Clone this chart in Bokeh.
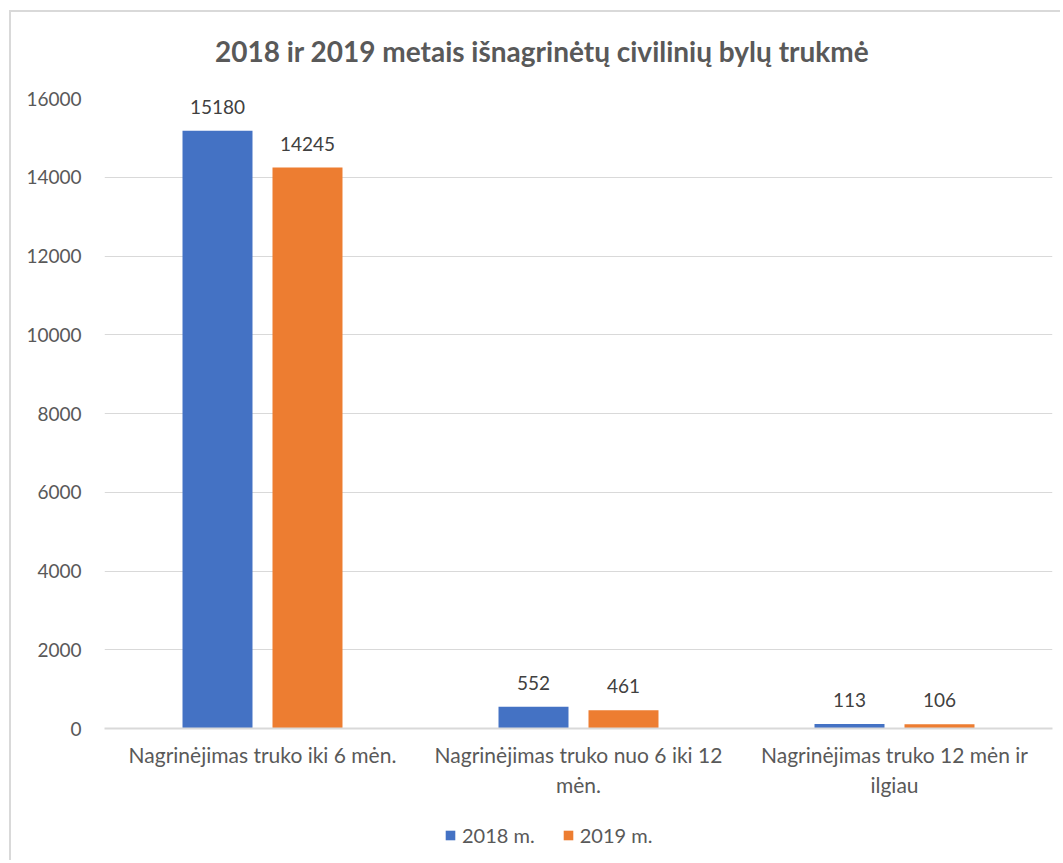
from bokeh.plotting import figure
from bokeh.layouts import column
from bokeh.models import (ColumnDataSource, Range1d, FactorRange, Legend, LegendItem,
                          LabelSet, Label, SingleIntervalTicker)
from bokeh.core.properties import value
from bokeh.transform import dodge
from bokeh.embed import file_html
from bokeh.resources import INLINE

categories = ["Nagrinėjimas truko iki 6 mėn.",
              "Nagrinėjimas truko nuo 6 iki 12\nmėn.",
              "Nagrinėjimas truko 12 mėn ir\nilgiau"]
values_2018 = [15180, 552, 113]
values_2019 = [14245, 461, 106]
series_names = ["2018 m.", "2019 m."]
title_text = "2018 ir 2019 metais išnagrinėtų civilinių bylų  trukmė"

BLUE = "#4472C4"
ORANGE = "#ED7D31"
TEXT = "#595959"
FONT = "Lato"
LEFT, FW, RIGHT = 104, 948, 8


def bare(fig):
    fig.border_fill_alpha = 0
    fig.background_fill_alpha = 0
    fig.outline_line_color = None
    return fig


# ---- title strip
pt = bare(figure(frame_width=FW, frame_height=78, x_range=Range1d(0, 1), y_range=Range1d(0, 1),
                 x_axis_type=None, y_axis_type=None, output_backend="svg",
                 toolbar_location=None, min_border_left=LEFT, min_border_right=RIGHT,
                 min_border_top=0, min_border_bottom=0))
pt.xgrid.grid_line_color = None
pt.ygrid.grid_line_color = None
pt.add_layout(Label(x=545 - LEFT, y=28, x_units="screen", y_units="screen", text=title_text,
                    text_align="center", text_baseline="middle", text_font=FONT,
                    text_font_size="28px", text_font_style="bold", text_color=TEXT))

# ---- main chart
src = ColumnDataSource(dict(cat=categories, v18=values_2018, v19=values_2019,
                            l18=[str(v) for v in values_2018],
                            l19=[str(v) for v in values_2019]))

p = bare(figure(x_range=FactorRange(*categories, range_padding=0),
                y_range=Range1d(0, 16000),
                frame_width=FW, frame_height=630,
                output_backend="svg", toolbar_location=None,
                min_border_left=LEFT, min_border_right=RIGHT, min_border_top=20,
                min_border_bottom=78))

r1 = p.vbar(x=dodge("cat", -0.1424, range=p.x_range), top="v18", width=0.2215,
            source=src, fill_color=BLUE, line_color=None)
r2 = p.vbar(x=dodge("cat", 0.1424, range=p.x_range), top="v19", width=0.2215,
            source=src, fill_color=ORANGE, line_color=None)

for col, lab, off in (("v18", "l18", -0.1424), ("v19", "l19", 0.1424)):
    p.add_layout(LabelSet(x=dodge("cat", off, range=p.x_range), y=col, text=lab,
                          source=src, y_offset=24, text_align="center",
                          text_baseline="middle", text_font=value(FONT),
                          text_font_size="19px", text_color="#404040"))

p.yaxis.ticker = SingleIntervalTicker(interval=2000)
p.yaxis.axis_line_color = None
p.yaxis.major_tick_line_color = None
p.yaxis.minor_tick_line_color = None
p.yaxis.major_label_text_font = FONT
p.yaxis.major_label_text_font_size = "19px"
p.yaxis.major_label_text_color = TEXT
p.yaxis.major_label_standoff = 17

p.xaxis.axis_line_color = "#d9d9d9"
p.xaxis.axis_line_width = 2
p.xaxis.major_tick_line_color = None
p.xaxis.minor_tick_line_color = None
p.xaxis.major_label_text_font = FONT
p.xaxis.major_label_text_font_size = "21px"
p.xaxis.major_label_text_color = TEXT
p.xaxis.major_label_standoff = 7

p.xgrid.grid_line_color = None
p.ygrid.grid_line_color = "#d9d9d9"
p.ygrid.grid_line_width = 1

# ---- legend strip
pl = bare(figure(frame_width=FW, frame_height=54, x_range=Range1d(0, 1), y_range=Range1d(0, 1),
                 x_axis_type=None, y_axis_type=None, output_backend="svg",
                 toolbar_location=None, min_border_left=LEFT, min_border_right=RIGHT,
                 min_border_top=0, min_border_bottom=0))
pl.xgrid.grid_line_color = None
pl.ygrid.grid_line_color = None
lg1 = pl.vbar(x=[-100], top=[0], bottom=[0], width=0.001, fill_color=BLUE, line_color=None)
lg2 = pl.vbar(x=[-100], top=[0], bottom=[0], width=0.001, fill_color=ORANGE, line_color=None)
legend = Legend(items=[LegendItem(label=series_names[0], renderers=[lg1]),
                       LegendItem(label=series_names[1], renderers=[lg2])],
                orientation="horizontal", location=(444 - LEFT, 13),
                glyph_width=12, glyph_height=12, label_standoff=6, spacing=27,
                padding=0, margin=0, border_line_color=None,
                label_text_font=FONT, label_text_font_size="20px",
                label_text_color=TEXT, background_fill_alpha=0)
pl.add_layout(legend)

layout = column(pt, p, pl, spacing=0)
layout.styles = {"background": ("linear-gradient(#d9d9d9,#d9d9d9) 9px 10px / 100% 2px no-repeat, "
                                "linear-gradient(#d9d9d9,#d9d9d9) 9px 10px / 2px 100% no-repeat, white")}

open("out.html", "w").write(file_html(layout, INLINE))
